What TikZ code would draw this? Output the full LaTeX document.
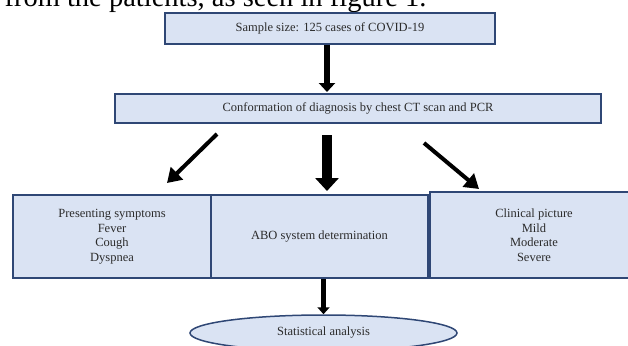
\documentclass[tikz,border=0pt]{standalone}
\usepackage{fontspec}
\setmainfont{Liberation Serif}
\usetikzlibrary{arrows.meta,shapes.geometric}
\definecolor{boxfill}{HTML}{DAE3F3}
\definecolor{boxline}{HTML}{2F4775}
\definecolor{boxtext}{HTML}{2B2B2B}
\tikzset{
	flowbox/.style={draw=boxline, line width=2pt, fill=boxfill, inner sep=0pt, align=center, text=boxtext, font=\fontsize{12.5}{14.5}\selectfont},
	thinarrow/.style={line width=5.5pt, -{Triangle[width=16pt,length=9pt]}},
	fatarrow/.style={line width=10pt, -{Triangle[width=23pt,length=13pt]}},
	slantarrow/.style={line width=4pt, -{Triangle[width=17pt,length=14pt]}},
	smallarrow/.style={line width=4.5pt, -{Triangle[width=12pt,length=7pt]}}
}

\begin{document}
\begin{tikzpicture}[x=1pt,y=-1pt]
	%\draw[help lines] (0,0) grid[step=50] (628,345);
	\useasboundingbox (0,0) rectangle (628,345);
	\clip (0,0) rectangle (628,345);
	\node[anchor=base west, font=\fontsize{28.5}{30}\selectfont] (intro) at (1,7) {from the patients, as seen in figure 1.};
	\node[flowbox, minimum width=330pt, minimum height=31pt] (sample) at (330,28.5) {Sample size: 125 cases of COVID-19};
	\node[flowbox, minimum width=486pt, minimum height=29pt] (conf) at (358,108.5) {Conformation of diagnosis by chest CT scan and PCR};
	\node[flowbox, minimum width=198pt, minimum height=83pt] (symp) at (112,236.5) {Presenting symptoms\\Fever\\Cough\\Dyspnea};
	\node[flowbox, minimum width=217pt, minimum height=83pt] (abo) at (319.5,236.5) {ABO system determination};
	\node[flowbox, minimum width=208pt, minimum height=86pt] (clin) at (534,235) {Clinical picture\\Mild\\Moderate\\Severe};
	\node[flowbox, ellipse, line width=1.5pt, minimum width=267pt, minimum height=36pt] (stat) at (323.5,333) {Statistical analysis};
	% arrows
	\draw[thinarrow, shorten >=1pt] ([xshift=-3pt]sample.south) -- ([xshift=-31pt]conf.north);
	\draw[fatarrow] ([xshift=-31pt,yshift=-11pt]conf.south) -- ([xshift=7.5pt,yshift=3pt]abo.north);
	\draw[slantarrow] ([xshift=-141pt,yshift=-10pt]conf.south) -- ([xshift=55pt,yshift=11pt]symp.north);
	\draw[slantarrow] ([xshift=66pt,yshift=-19pt]conf.south) -- ([xshift=-55pt,yshift=2pt]clin.north);
	\draw[smallarrow] (abo.south -| stat.north) -- (stat.north);
\end{tikzpicture}
\end{document}
